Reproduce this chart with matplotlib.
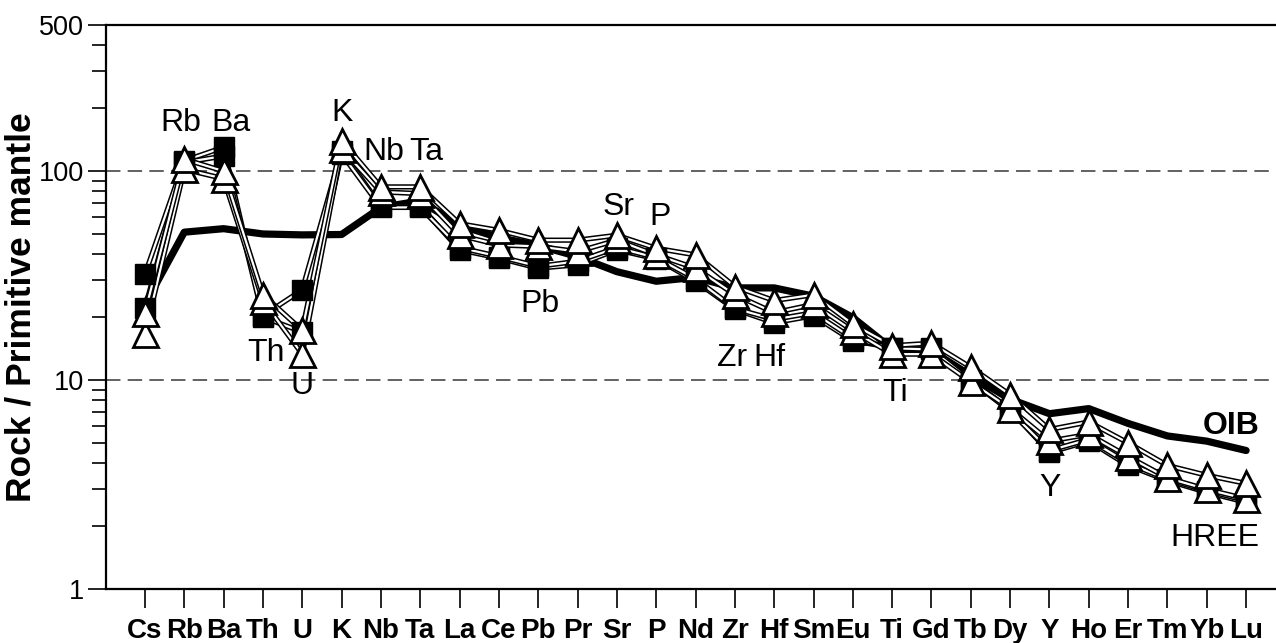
"""Primitive-mantle normalised multi-element diagram with OIB reference."""
import matplotlib
matplotlib.use("Agg")
import matplotlib.pyplot as plt
import matplotlib.patheffects as pe
from matplotlib.ticker import FixedLocator, FixedFormatter, NullFormatter

plt.rcParams["font.family"] = ["Liberation Sans", "DejaVu Sans"]

ELEMENTS = ["Cs", "Rb", "Ba", "Th", "U", "K", "Nb", "Ta", "La", "Ce", "Pb", "Pr",
            "Sr", "P", "Nd", "Zr", "Hf", "Sm", "Eu", "Ti", "Gd", "Tb", "Dy", "Y",
            "Ho", "Er", "Tm", "Yb", "Lu"]

# OIB reference pattern
OIB = [23, 51, 53, 50, 49.5, 49.7, 67, 72, 55, 48, 44, 39,
       33, 29.7, 31, 27.6, 27.6, 25.2, 19.9, 14.1, 13.8, 10.5, 8.1, 6.9,
       7.3, 6.2, 5.4, 5.1, 4.6]

# samples plotted with filled squares
SQ_1 = [32, 112, 130, 20.3, 27, 125, 68, 68, 42, 38.3, 34.3, 35.6,
        42, 38, 29.7, 21.8, 18.8, 20.3, 15.4, 14.3, 14.3, 10, 7.2, 4.5,
        5.1, 3.9, 3.3, 2.9, 2.6]
SQ_2 = [22, 110, 118, 20, 17, 121, 67, 67, 43, 39, 35, 37,
        43, 38.5, 30.5, 22, 19.5, 21, 15.8, 14.2, 14, 9.9, 7.1, 4.6,
        5.2, 4.0, 3.35, 2.95, 2.65]

# samples plotted with open triangles
TRI_1 = [21, 114, 100, 25.6, 17.3, 140, 84, 84, 56, 52, 46.7, 46.7,
         49.3, 42.7, 39.7, 28, 24, 25.6, 18.5, 14.6, 15, 11.5, 8.5, 5.8,
         6.3, 5.0, 3.9, 3.5, 3.2]
TRI_2 = [16.6, 102, 92, 24, 13.3, 128, 79.5, 78, 49.3, 44.3, 43.6, 41.2,
         46.7, 39.7, 34.3, 25.6, 21, 23, 17.2, 13.3, 13.3, 9.8, 7.3, 5.1,
         5.5, 4.3, 3.4, 3.0, 2.7]

# in-plot annotations: (text, x index, baseline value)
LABELS = [("Rb", 0.92, 156), ("Ba", 2.2, 156), ("K", 5.0, 173),
          ("Nb", 6.08, 113), ("Ta", 7.16, 113), ("Th", 3.09, 12.4),
          ("U", 4.0, 8.57), ("Pb", 10.05, 21.2), ("Sr", 12.05, 61.7),
          ("P", 13.1, 55.2), ("Zr", 14.92, 11.7), ("Hf", 15.87, 11.7),
          ("Ti", 19.07, 7.95), ("Y", 23.02, 2.78), ("HREE", 27.21, 1.6)]

x = list(range(len(ELEMENTS)))

fig = plt.figure(figsize=(12.76, 6.43), dpi=100)
ax = fig.add_axes([106 / 1276, 54 / 643, 1 - 106 / 1276, 564 / 643])
ax.set_yscale("log")
ax.set_ylim(1, 500)
ax.set_xlim(-0.99, 28.76)

for lvl in (10, 100):
    ax.axhline(lvl, color="#555555", lw=1.3, dashes=(8, 4), zorder=1)

ax.plot(x, OIB, color="black", lw=5.2, solid_capstyle="round",
        solid_joinstyle="round", zorder=2)
ax.text(27.61, 5.5, "OIB", fontsize=23, fontweight="bold", ha="center",
        va="baseline")

outline = [pe.Stroke(linewidth=3.8, foreground="black"), pe.Normal()]
for ys in (SQ_1, SQ_2, TRI_2, TRI_1):
    ax.plot(x, ys, color="white", lw=1.6, path_effects=outline, zorder=3)

for ys in (SQ_1, SQ_2):
    ax.plot(x, ys, ls="none", marker="s", ms=15, mfc="black", mec="black",
            mew=1, zorder=4)
for ys in (TRI_2, TRI_1):
    ax.plot(x, ys, ls="none", marker="^", ms=18, mfc="white", mec="black",
            mew=2, zorder=5)

for txt, xi, yv in LABELS:
    ax.text(xi, yv, txt, fontsize=23, ha="center", va="baseline", zorder=6)

ax.spines["right"].set_visible(False)
for side in ("left", "bottom", "top"):
    ax.spines[side].set_linewidth(1.6)

ax.set_xticks(x)
ax.set_xticklabels(ELEMENTS, fontsize=20, fontweight="bold")
ax.tick_params(axis="x", direction="out", length=14, width=1.2, pad=7)

ax.yaxis.set_major_locator(FixedLocator([1, 10, 100, 500]))
ax.yaxis.set_major_formatter(FixedFormatter(["1", "10", "100", "500"]))
minor = [m * d for d in (1, 10, 100) for m in range(2, 10) if m * d < 500]
ax.yaxis.set_minor_locator(FixedLocator(minor))
ax.yaxis.set_minor_formatter(NullFormatter())
ax.tick_params(axis="y", which="major", direction="out", length=13, width=1.2,
               labelsize=19.5, pad=3)
ax.tick_params(axis="y", which="minor", direction="out", length=10, width=1.2)

ax.set_ylabel("Rock / Primitive mantle", fontsize=25.5, fontweight="bold",
              labelpad=1)

fig.savefig("out.png", dpi=100)
